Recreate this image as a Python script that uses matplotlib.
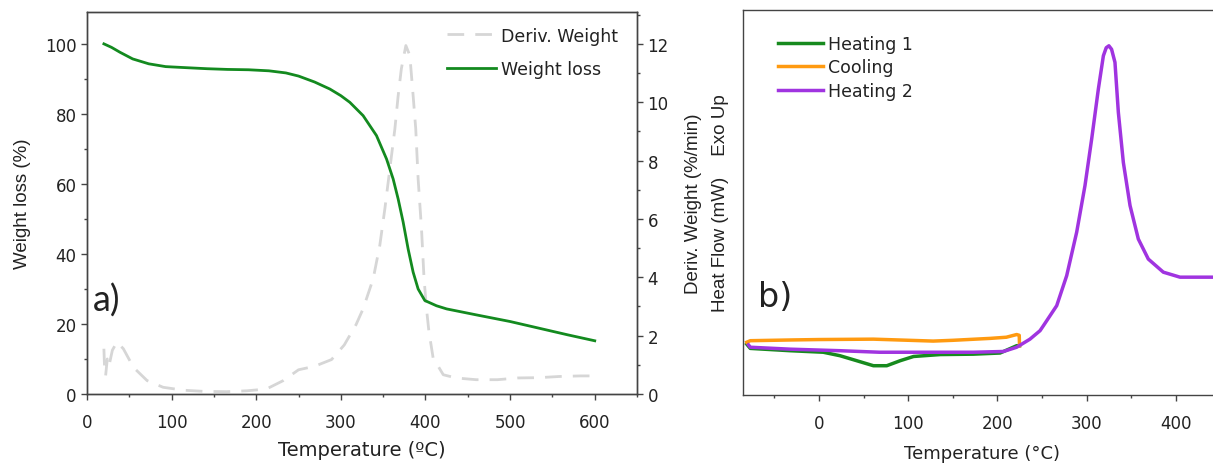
import matplotlib.pyplot as plt
from matplotlib.ticker import MultipleLocator, NullLocator

plt.rcParams['font.family'] = ['DejaVu Sans']

# ---- TGA data (panel a) ----
tga_temp = [20, 29, 39, 54, 73, 93, 117, 142, 166, 191, 215, 235, 250, 269, 287,
            300, 310.6, 326.3, 342.1, 354, 361.8, 367.7, 373.6, 379.5, 385.4,
            391.3, 399.2, 413, 425, 460, 500, 534, 568, 600]
tga_weight = [100, 99, 97.6, 95.7, 94.3, 93.5, 93.2, 92.9, 92.7, 92.6, 92.3, 91.7,
              90.8, 89.1, 87.1, 85.2, 83.3, 79.5, 73.8, 67.1, 61.4, 55.7, 49.1,
              41.4, 34.8, 30.0, 26.7, 25.2, 24.3, 22.6, 20.7, 18.8, 16.9, 15.2]

dtg_temp = [20, 21, 22, 24, 26, 30, 35.4, 43, 55, 71, 90, 114, 138, 165, 189, 212,
            232, 250, 269, 289, 304, 318, 326.3, 338.2, 346, 352, 357.9, 363.8,
            367.7, 371.5, 376.8, 381.5, 385.4, 388.5, 391.3, 395.3, 398.3, 401.2,
            404, 409, 421, 436, 460, 485, 509, 534, 558, 583, 600]
dtg_rate = [1.55, 0.72, 0.62, 1.20, 0.96, 1.50, 1.78, 1.55, 0.91, 0.46, 0.23, 0.13,
            0.09, 0.08, 0.11, 0.17, 0.46, 0.83, 0.95, 1.18, 1.68, 2.38, 2.92, 3.95,
            5.09, 6.35, 7.72, 9.08, 10.22, 11.15, 11.94, 11.60, 10.22, 9.08, 7.37,
            5.65, 3.95, 2.92, 2.15, 1.24, 0.66, 0.55, 0.49, 0.49, 0.55, 0.56, 0.60,
            0.62, 0.62]

# ---- DSC data (panel b), arbitrary heat-flow units ----
heat1_temp = [-81, -77, -32.5, 4.8, 23.5, 42.3, 61, 76, 91, 106, 136, 173, 203,
              221.6, 224.8]
heat1_flow = [13.2, 12.1, 11.5, 11.1, 10.2, 8.9, 7.6, 7.6, 8.9, 10.0, 10.5, 10.6,
              10.9, 12.8, 12.8]

cool_temp = [224.8, 224.5, 221.6, 210, 192, 150, 128, 61, 0, -29, -77, -81]
cool_flow = [12.8, 15.5, 15.7, 15.0, 14.7, 14.2, 14.0, 14.5, 14.4, 14.3, 14.1, 13.7]

heat2_temp = [-79, -77, -32.5, 23.5, 68, 173, 206.8, 221.6, 236.5, 247.8, 251.6,
              266.5, 277.7, 288.9, 298.2, 305.7, 313.2, 318.8, 322, 325, 328,
              331.8, 335.6, 341.2, 348.7, 358, 369.2, 386, 404.7, 441.7, 450]
heat2_flow = [13.0, 12.4, 11.9, 11.5, 11.1, 11.1, 11.3, 12.4, 14.5, 16.7, 18.0,
              23.2, 31.0, 42.3, 54.4, 66.5, 79.5, 88.1, 90.2, 90.7, 89.8, 86.4,
              73.4, 60.4, 49.2, 40.5, 35.3, 31.9, 30.6, 30.6, 30.6]

text_c = '#222222'
spine_c = '#444444'
vfont = ['Liberation Sans', 'DejaVu Sans']

fig = plt.figure(figsize=(12.13, 4.64), dpi=100)

# ---------------- panel a ----------------
ax1 = fig.add_axes([0.0717, 0.1487, 0.4535, 0.8233])
ax2 = ax1.twinx()

l_dtg, = ax2.plot(dtg_temp, dtg_rate, color='#d6d6d6', lw=2, dashes=(6, 4),
                  label='Deriv. Weight')
l_tga, = ax1.plot(tga_temp, tga_weight, color='#138a1f', lw=2, label='Weight loss')
ax1.set_zorder(ax2.get_zorder() + 1)
ax1.patch.set_visible(False)

ax1.set_xlim(0, 650)
ax1.set_ylim(0, 109.1)
ax2.set_ylim(0, 13.09)
ax1.xaxis.set_major_locator(MultipleLocator(100))
ax1.xaxis.set_minor_locator(MultipleLocator(50))
ax1.yaxis.set_major_locator(MultipleLocator(20))
ax1.yaxis.set_minor_locator(MultipleLocator(10))
ax2.yaxis.set_major_locator(MultipleLocator(2))
ax2.yaxis.set_minor_locator(MultipleLocator(1))

for ax in (ax1, ax2):
    ax.tick_params(which='major', direction='out', length=4, width=1,
                   labelsize=12, colors=spine_c, labelcolor=text_c)
    ax.tick_params(which='minor', direction='out', length=2.5, width=1, colors=spine_c)
    for s in ax.spines.values():
        s.set_color(spine_c)
        s.set_linewidth(1)
ax1.tick_params(axis='x', pad=10)

ax1.set_xlabel('Temperature (ºC)', fontsize=14, color=text_c, labelpad=6)
ax1.set_ylabel('Weight loss (%)', fontsize=13.5, color=text_c, labelpad=10,
               family=vfont)
ax2.set_ylabel('Deriv. Weight (%/min)', fontsize=13.5, color=text_c, labelpad=12,
               family=vfont)

ax1.text(7, 27, 'a)', fontsize=26, color=text_c, va='center', ha='left',
         family=['Lato', 'DejaVu Sans'])

ax1.legend([l_dtg, l_tga], ['Deriv. Weight', 'Weight loss'], loc='upper left',
           bbox_to_anchor=(0.655, 0.962), frameon=False, fontsize=12.5,
           handlelength=2.8, handletextpad=0.3, labelspacing=0.9,
           borderpad=0, borderaxespad=0, labelcolor=text_c)

# ---------------- panel b ----------------
ax3 = fig.add_axes([0.6123, 0.1466, 0.3938, 0.8297])
ax3.plot(heat1_temp, heat1_flow, color='#178a1e', lw=2.5, label='Heating 1')
ax3.plot(cool_temp, cool_flow, color='#ff9a10', lw=2.5, label='Cooling')
ax3.plot(heat2_temp, heat2_flow, color='#a034e0', lw=2.5, label='Heating 2')

ax3.set_xlim(-85.5, 450)
ax3.set_ylim(0, 100)
ax3.xaxis.set_major_locator(MultipleLocator(100))
ax3.xaxis.set_minor_locator(MultipleLocator(50))
ax3.yaxis.set_major_locator(NullLocator())
ax3.tick_params(which='major', direction='out', length=4, width=1, pad=10,
                labelsize=12, colors=spine_c, labelcolor=text_c)
ax3.tick_params(which='minor', direction='out', length=2.5, width=1, colors=spine_c)
for s in ax3.spines.values():
    s.set_color(spine_c)
    s.set_linewidth(1)

ax3.set_xlabel('Temperature (°C)', fontsize=13, color=text_c, labelpad=8)
ax3.set_ylabel('Heat Flow (mW)    Exo Up', fontsize=13.5, color=text_c,
               labelpad=10, family=vfont)
ax3.text(-68, 25.7, 'b)', fontsize=24, color=text_c, va='center', ha='left')

ax3.legend(loc='upper left', bbox_to_anchor=(0.074, 0.936), frameon=False,
           fontsize=12.5, handlelength=2.6, handletextpad=0.3, labelspacing=0.32,
           borderpad=0, borderaxespad=0, labelcolor=text_c)

fig.savefig('out.png', dpi=100)
